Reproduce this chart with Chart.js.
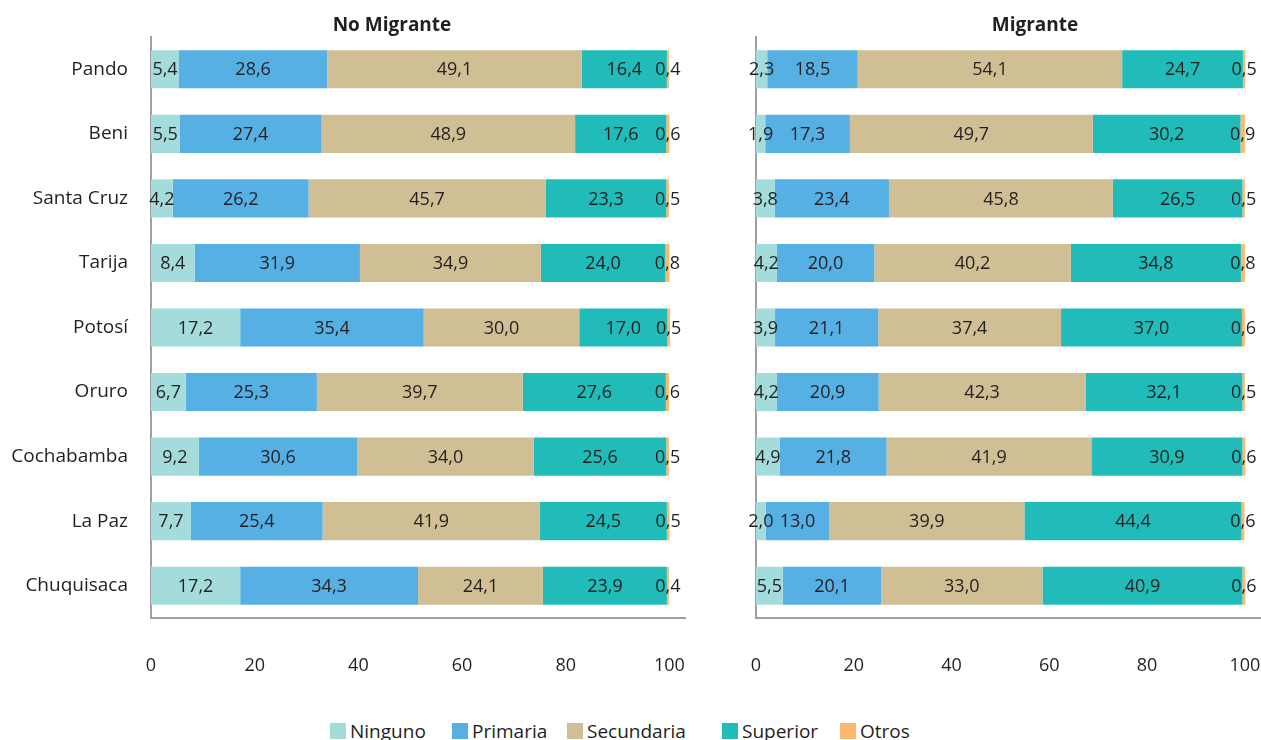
<!DOCTYPE html>
<html>
<head>
<meta charset="utf-8">
<script src="https://cdn.jsdelivr.net/npm/chart.js@4.4.1/dist/chart.umd.min.js"></script>
<style>
  body { margin: 0; background: #fff; font-family: "Open Sans", sans-serif; color: #231f20; }
  #wrap { position: relative; width: 1261px; height: 740px; overflow: hidden; }
  .panel { position: absolute; top: 0; height: 700px; }
  .title { position: absolute; top: 11px; font-weight: bold; font-size: 19px; transform: translateX(-50%); white-space: nowrap; }
  .legend-item { position: absolute; top: 718px; display: flex; align-items: center; font-size: 19px; white-space: nowrap; }
  .legend-item .box { width: 16px; height: 16px; margin-right: 4px; }
</style>
</head>
<body>
<div id="wrap">
  <div class="panel" style="left:0; width:700px"><canvas id="noMigrante"></canvas></div>
  <div class="panel" style="left:700px; width:561px"><canvas id="migrante"></canvas></div>
  <div class="title" style="left:392px">No Migrante</div>
  <div class="title" style="left:1035px">Migrante</div>
  <div id="legend"></div>
</div>
<script>
const departamentos = ["Pando", "Beni", "Santa Cruz", "Tarija", "Potosí", "Oruro", "Cochabamba", "La Paz", "Chuquisaca"];
const niveles = ["Ninguno", "Primaria", "Secundaria", "Superior", "Otros"];
const colores = ["#a4dcdc", "#56b0e3", "#d0bf95", "#21bcb9", "#fbb96f"];

// No Migrante
const noMigNinguno    = [5.4, 5.5, 4.2, 8.4, 17.2, 6.7, 9.2, 7.7, 17.2];
const noMigPrimaria   = [28.6, 27.4, 26.2, 31.9, 35.4, 25.3, 30.6, 25.4, 34.3];
const noMigSecundaria = [49.1, 48.9, 45.7, 34.9, 30.0, 39.7, 34.0, 41.9, 24.1];
const noMigSuperior   = [16.4, 17.6, 23.3, 24.0, 17.0, 27.6, 25.6, 24.5, 23.9];
const noMigOtros      = [0.4, 0.6, 0.5, 0.8, 0.5, 0.6, 0.5, 0.5, 0.4];

// Migrante
const migNinguno    = [2.3, 1.9, 3.8, 4.2, 3.9, 4.2, 4.9, 2.0, 5.5];
const migPrimaria   = [18.5, 17.3, 23.4, 20.0, 21.1, 20.9, 21.8, 13.0, 20.1];
const migSecundaria = [54.1, 49.7, 45.8, 40.2, 37.4, 42.3, 41.9, 39.9, 33.0];
const migSuperior   = [24.7, 30.2, 26.5, 34.8, 37.0, 32.1, 30.9, 44.4, 40.9];
const migOtros      = [0.5, 0.9, 0.5, 0.8, 0.6, 0.5, 0.6, 0.6, 0.6];

const xTicks = [0, 20, 40, 60, 80, 100];

const textColor = "#231f20";
const axisColor = "#a0a0a0";

// draw the value in the middle of each segment
const valueLabels = {
  id: "valueLabels",
  afterDatasetsDraw(chart) {
    const ctx = chart.ctx;
    ctx.save();
    ctx.font = '18px "Open Sans"';
    ctx.fillStyle = textColor;
    ctx.textAlign = "center";
    ctx.textBaseline = "middle";
    chart.data.datasets.forEach((ds, i) => {
      chart.getDatasetMeta(i).data.forEach((bar, j) => {
        const p = bar.getProps(["x", "y", "base"], true);
        ctx.fillText(ds.data[j].toFixed(1).replace(".", ","), (p.x + p.base) / 2, p.y + 1);
      });
    });
    ctx.restore();
  },
};

function makeChart(id, series, xMax, yWidth, showLabels, rightPad) {
  return new Chart(document.getElementById(id), {
    type: "bar",
    data: {
      labels: departamentos,
      datasets: series.map((values, i) => ({
        label: niveles[i],
        data: values,
        backgroundColor: colores[i],
        borderWidth: 0,
        categoryPercentage: 0.59,
        barPercentage: 1,
      })),
    },
    options: {
      indexAxis: "y",
      responsive: true,
      maintainAspectRatio: false,
      animation: false,
      layout: { padding: { top: 37, bottom: 23, left: showLabels ? 0 : yWidth, right: 0 } },
      plugins: { legend: { display: false }, tooltip: { enabled: false } },
      scales: {
        x: {
          stacked: true,
          min: 0,
          max: xMax,
          grid: { display: false, drawTicks: false },
          border: { display: true, color: axisColor, width: 2 },
          afterBuildTicks: (scale) => {
            scale.ticks = xTicks.map((v) => ({ value: v }));
          },
          afterFit: (scale) => {
            scale.height = 59;
            scale.paddingLeft = 0;
            scale.paddingRight = rightPad;
          },
          ticks: {
            padding: 37,
            color: textColor,
            font: { family: "Open Sans", size: 18 },
            maxRotation: 0,
          },
        },
        y: {
          stacked: true,
          grid: { display: false, drawTicks: false },
          border: { display: true, color: axisColor, width: 2 },
          afterFit: (scale) => {
            scale.width = showLabels ? yWidth : 0;
          },
          ticks: {
            display: showLabels,
            padding: 23,
            color: textColor,
            font: { family: "Open Sans", size: 19 },
          },
        },
      },
    },
    plugins: [valueLabels],
  });
}

makeChart("noMigrante", [noMigNinguno, noMigPrimaria, noMigSecundaria, noMigSuperior, noMigOtros], 103, 151, true, 15);
makeChart("migrante", [migNinguno, migPrimaria, migSecundaria, migSuperior, migOtros], 103.3, 56, false, 0);

// legend
const legendLeft = [330, 452, 567, 722, 840];
const legendEl = document.getElementById("legend");
niveles.forEach((name, i) => {
  const item = document.createElement("div");
  item.className = "legend-item";
  item.style.left = legendLeft[i] + "px";
  item.innerHTML = '<span class="box" style="background:' + colores[i] + '"></span>' + name;
  legendEl.appendChild(item);
});
</script>
</body>
</html>
